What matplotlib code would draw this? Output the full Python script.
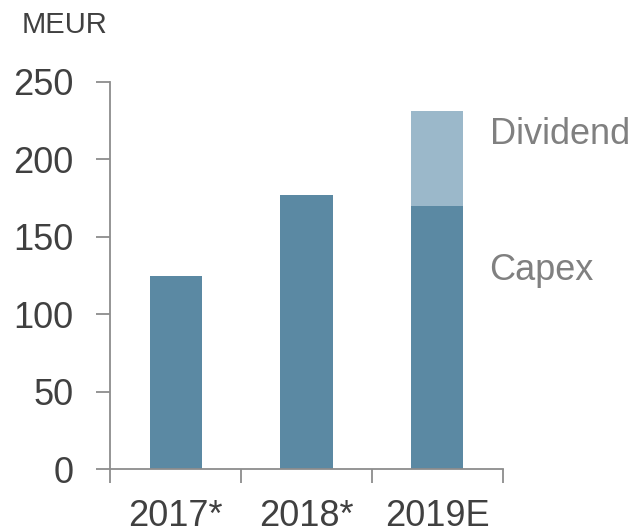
import matplotlib
matplotlib.use('Agg')
import matplotlib.pyplot as plt

years = ['2017*', '2018*', '2019E']
capex = [125, 177, 170]
dividend = [0, 0, 61]

plt.rcParams['font.family'] = ['Liberation Sans', 'DejaVu Sans']

fig = plt.figure(figsize=(6.36, 5.32), dpi=100)
ax = fig.add_axes([0.1737, 0.1175, 0.6167, 0.7289])

x = range(len(years))
ax.bar(x, capex, width=0.4, color='#5b89a3')
ax.bar(x, dividend, width=0.4, bottom=capex, color='#9bb8ca')

ax.set_xlim(-0.5, 2.5)
ax.set_ylim(0, 250)
ax.set_yticks([0, 50, 100, 150, 200, 250])
ax.set_xticks(list(x))
ax.set_xticklabels(years)
ax.set_xticks([-0.5, 0.5, 1.5, 2.5], minor=True)

for s in ['top', 'right']:
    ax.spines[s].set_visible(False)
for s in ['left', 'bottom']:
    ax.spines[s].set_color('#8c8c8c')
    ax.spines[s].set_linewidth(1.3)

ax.tick_params(axis='y', length=10, width=1.3, color='#8c8c8c', pad=16.5,
               labelsize=26, labelcolor='#404040')
ax.tick_params(axis='x', which='major', length=0, pad=21,
               labelsize=26, labelcolor='#404040')
ax.tick_params(axis='x', which='minor', length=10, width=1.3, color='#8c8c8c')

ax.text(2.4, 216, 'Dividend', fontsize=26, color='#808080', va='center',
        ha='left', clip_on=False)
ax.text(2.4, 128, 'Capex', fontsize=26, color='#808080', va='center',
        ha='left', clip_on=False)

fig.text(22 / 636, 1 - 25 / 532, 'MEUR', fontsize=21, color='#404040',
         va='center', ha='left')

fig.savefig('out.png', dpi=100)
